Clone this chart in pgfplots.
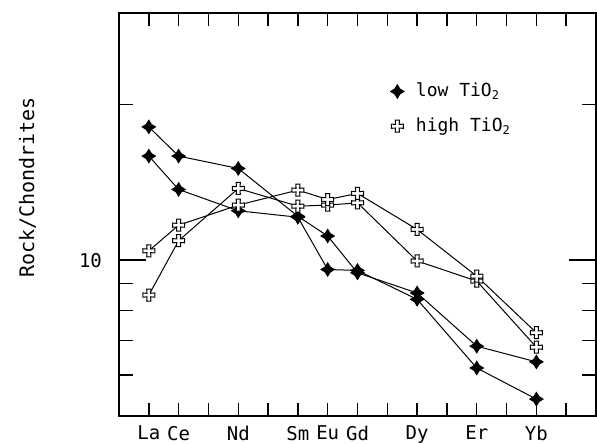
\documentclass[border=0pt]{standalone}
\usepackage{fontspec}
\setmainfont{DejaVu Sans Mono}
\usepackage{pgfplots}
\pgfplotsset{compat=1.18}

% filled four-point star (low TiO2)
\pgfdeclareplotmark{lofill}{%
  \pgfpathmoveto{\pgfqpoint{0pt}{1.1\pgfplotmarksize}}%
  \pgfpathlineto{\pgfqpoint{0.42\pgfplotmarksize}{0.42\pgfplotmarksize}}%
  \pgfpathlineto{\pgfqpoint{1.1\pgfplotmarksize}{0pt}}%
  \pgfpathlineto{\pgfqpoint{0.42\pgfplotmarksize}{-0.42\pgfplotmarksize}}%
  \pgfpathlineto{\pgfqpoint{0pt}{-1.1\pgfplotmarksize}}%
  \pgfpathlineto{\pgfqpoint{-0.42\pgfplotmarksize}{-0.42\pgfplotmarksize}}%
  \pgfpathlineto{\pgfqpoint{-1.1\pgfplotmarksize}{0pt}}%
  \pgfpathlineto{\pgfqpoint{-0.42\pgfplotmarksize}{0.42\pgfplotmarksize}}%
  \pgfpathclose
  \pgfusepathqfillstroke
}
% open cross (high TiO2)
\pgfdeclareplotmark{hiopen}{%
  \pgfpathmoveto{\pgfqpoint{-0.35\pgfplotmarksize}{\pgfplotmarksize}}%
  \pgfpathlineto{\pgfqpoint{0.35\pgfplotmarksize}{\pgfplotmarksize}}%
  \pgfpathlineto{\pgfqpoint{0.3\pgfplotmarksize}{0.3\pgfplotmarksize}}%
  \pgfpathlineto{\pgfqpoint{\pgfplotmarksize}{0.35\pgfplotmarksize}}%
  \pgfpathlineto{\pgfqpoint{\pgfplotmarksize}{-0.35\pgfplotmarksize}}%
  \pgfpathlineto{\pgfqpoint{0.3\pgfplotmarksize}{-0.3\pgfplotmarksize}}%
  \pgfpathlineto{\pgfqpoint{0.35\pgfplotmarksize}{-\pgfplotmarksize}}%
  \pgfpathlineto{\pgfqpoint{-0.35\pgfplotmarksize}{-\pgfplotmarksize}}%
  \pgfpathlineto{\pgfqpoint{-0.3\pgfplotmarksize}{-0.3\pgfplotmarksize}}%
  \pgfpathlineto{\pgfqpoint{-\pgfplotmarksize}{-0.35\pgfplotmarksize}}%
  \pgfpathlineto{\pgfqpoint{-\pgfplotmarksize}{0.35\pgfplotmarksize}}%
  \pgfpathlineto{\pgfqpoint{-0.3\pgfplotmarksize}{0.3\pgfplotmarksize}}%
  \pgfpathclose
  \pgfusepathqfillstroke
}

\begin{document}
\begin{tikzpicture}
\begin{axis}[
    scale only axis, width=238.5pt, height=201.5pt,
    xmin=0, xmax=16, ymode=log, ymin=5, ymax=30,
    xtick={1,...,15},
    xticklabels={La,Ce,,Nd,,Sm,Eu,Gd,,Dy,,Er,,Yb,},
    ytick={10}, yticklabels={10},
    minor ytick={6,7,8,9,20},
    xtick pos=both, ytick pos=both,
    tick align=inside,
    major tick length=6.5pt, minor tick length=7pt,
    ytick style={/pgfplots/major tick length=13.5pt},
    tick style={black, line width=0.7pt},
    axis line style={line width=0.9pt},
    ticklabel style={font=\fontsize{9.5}{10}\selectfont},
    xticklabel style={yshift=-1.5pt},
    yticklabel style={xshift=-5pt},
    ylabel={Rock/Chondrites},
    ylabel style={at={(axis description cs:-0.192,0.567)}, rotate=0, anchor=center,
                  font=\fontsize{10}{12}\selectfont},
    legend style={at={(axis cs:8.9,22.8)}, anchor=north west, draw=none, fill=none,
                  font=\fontsize{9}{10}\selectfont, row sep=5pt, column sep=4pt},
    legend cell align=left,
    mark size=3pt,
    every axis plot/.append style={black, line width=0.5pt},
]
\addlegendimage{only marks, mark=lofill, mark options={fill=black}}
\addlegendentry{low TiO\textsubscript{2}}
\addlegendimage{only marks, mark=hiopen, mark options={fill=white}}
\addlegendentry{high TiO\textsubscript{2}}

% low TiO2
\addplot[mark=lofill, mark options={fill=black}, forget plot] coordinates {
  (1,18.08)(2,15.88)(4,15.03)(6,12.15)(7,11.13)(8,9.45)(10,8.64)(12,6.82)(14,6.36)};
\addplot[mark=lofill, mark options={fill=black}, forget plot] coordinates {
  (1,15.88)(2,13.69)(4,12.45)(6,12.10)(7,9.59)(8,9.55)(10,8.40)(12,6.19)(14,5.39)};
% high TiO2
\addplot[mark=hiopen, mark options={fill=white}, forget plot] coordinates {
  (1,8.56)(2,10.9)(4,13.75)(6,12.71)(7,12.77)(8,12.90)(10,9.96)(12,9.11)(14,6.79)};
\addplot[mark=hiopen, mark options={fill=white}, forget plot] coordinates {
  (1,10.42)(2,11.68)(4,12.77)(6,13.65)(7,13.09)(8,13.45)(10,11.46)(12,9.31)(14,7.24)};

% short inward marks hanging from the top edge at each element
\pgfplotsinvokeforeach{1,...,15}{
  \addplot[no marks, black, line width=0.7pt, forget plot] coordinates {(#1,30)(#1,28.4)};
}
\end{axis}
\pgfresetboundingbox
\path ([shift={(-59.5pt,-13.5pt)}]current axis.south west)
  rectangle ([shift={(0.5pt,6.5pt)}]current axis.north east);
\end{tikzpicture}
\end{document}
